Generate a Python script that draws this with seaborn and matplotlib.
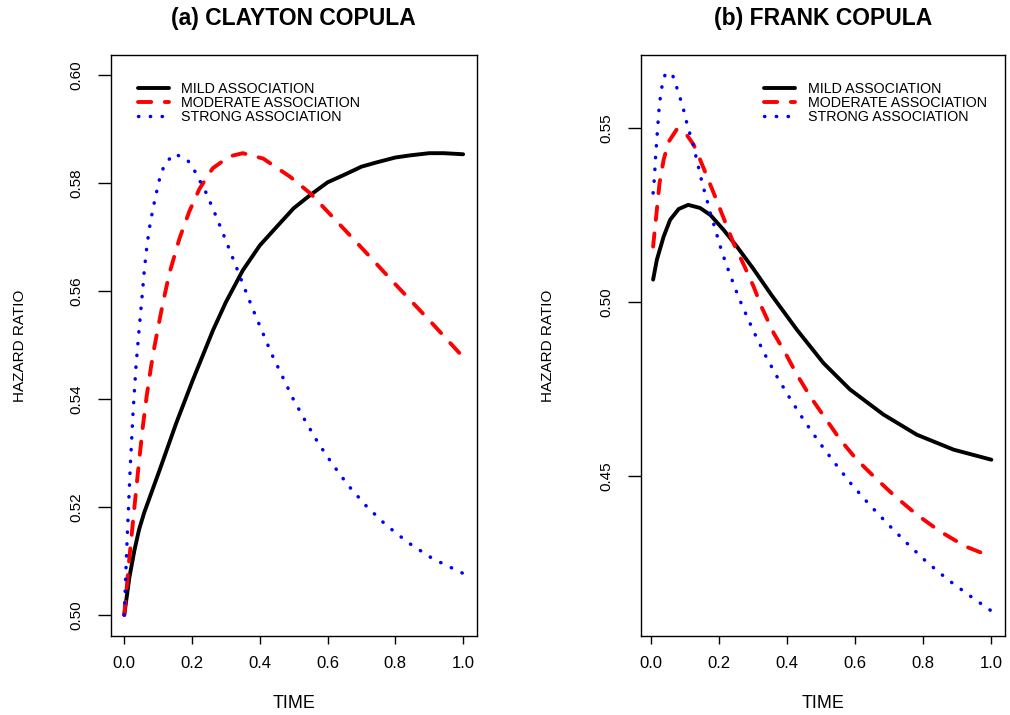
import matplotlib
matplotlib.use("Agg")
import matplotlib.pyplot as plt
import seaborn as sns

# ---------------- data ----------------
SERIES_LABELS = ["MILD ASSOCIATION", "MODERATE ASSOCIATION", "STRONG ASSOCIATION"]

# (a) Clayton copula
clayton_mild_t = [0.000, 0.015, 0.030, 0.044, 0.059, 0.104, 0.153, 0.202, 0.262, 0.300,
                  0.350, 0.400, 0.449, 0.500, 0.548, 0.600, 0.646, 0.700, 0.745, 0.800,
                  0.844, 0.900, 0.943, 1.000]
clayton_mild_v = [0.5000, 0.5069, 0.5120, 0.5159, 0.5190, 0.5268, 0.5355, 0.5435, 0.5528,
                  0.5580, 0.5639, 0.5685, 0.5719, 0.5754, 0.5778, 0.5802, 0.5815, 0.5831,
                  0.5839, 0.5848, 0.5852, 0.5856, 0.5856, 0.5854]

clayton_mod_t = [0.000, 0.015, 0.030, 0.041, 0.054, 0.066, 0.079, 0.089, 0.099, 0.113,
                 0.133, 0.163, 0.192, 0.222, 0.261, 0.310, 0.350, 0.410, 0.490, 0.550,
                 0.610, 0.670, 0.725, 0.785, 0.845, 0.905, 1.000]
clayton_mod_v = [0.5000, 0.5105, 0.5200, 0.5268, 0.5345, 0.5405, 0.5460, 0.5497, 0.5530,
                 0.5575, 0.5633, 0.5698, 0.5748, 0.5790, 0.5828, 0.5850, 0.5856, 0.5846,
                 0.5812, 0.5781, 0.5741, 0.5701, 0.5664, 0.5623, 0.5583, 0.5543, 0.5478]

clayton_str_t = [0.000, 0.008, 0.017, 0.026, 0.035, 0.044, 0.054, 0.059, 0.067, 0.077,
                 0.091, 0.107, 0.121, 0.148, 0.186, 0.207, 0.242, 0.271, 0.298, 0.325,
                 0.351, 0.378, 0.406, 0.434, 0.466, 0.498, 0.534, 0.572, 0.615, 0.661,
                 0.714, 0.772, 0.838, 0.911, 1.000]
clayton_str_v = [0.5000, 0.5133, 0.5265, 0.5376, 0.5464, 0.5531, 0.5600, 0.5638, 0.5685,
                 0.5728, 0.5772, 0.5816, 0.5837, 0.5855, 0.5844, 0.5824, 0.5782, 0.5739,
                 0.5697, 0.5654, 0.5612, 0.5569, 0.5527, 0.5485, 0.5443, 0.5401, 0.5360,
                 0.5319, 0.5279, 0.5240, 0.5202, 0.5167, 0.5134, 0.5104, 0.5077]

# (b) Frank copula
frank_mild_t = [0.007, 0.018, 0.038, 0.057, 0.082, 0.110, 0.145, 0.175, 0.214, 0.253,
                0.302, 0.355, 0.429, 0.507, 0.585, 0.683, 0.781, 0.889, 1.000]
frank_mild_v = [0.5065, 0.5122, 0.5189, 0.5237, 0.5268, 0.5280, 0.5271, 0.5251, 0.5208,
                0.5160, 0.5095, 0.5020, 0.4921, 0.4825, 0.4749, 0.4677, 0.4619, 0.4576,
                0.4547]

frank_mod_t = [0.007, 0.017, 0.026, 0.038, 0.053, 0.077, 0.101, 0.126, 0.145, 0.165,
               0.189, 0.214, 0.243, 0.273, 0.302, 0.326, 0.361, 0.395, 0.429, 0.468,
               0.512, 0.556, 0.605, 0.659, 0.717, 0.781, 0.849, 0.923, 1.000]
frank_mod_v = [0.5160, 0.5256, 0.5343, 0.5410, 0.5462, 0.5498, 0.5488, 0.5453, 0.5410,
               0.5362, 0.5304, 0.5242, 0.5170, 0.5108, 0.5045, 0.4985, 0.4911, 0.4854,
               0.4792, 0.4729, 0.4667, 0.4605, 0.4547, 0.4495, 0.4442, 0.4389, 0.4341,
               0.4298, 0.4268]

frank_str_t = [0.007, 0.011, 0.014, 0.018, 0.021, 0.024, 0.028, 0.033, 0.042, 0.053,
               0.065, 0.077, 0.088, 0.098, 0.106, 0.116, 0.126, 0.134, 0.142, 0.150,
               0.159, 0.169, 0.177, 0.189, 0.198, 0.209, 0.221, 0.233, 0.246, 0.259,
               0.273, 0.303, 0.335, 0.370, 0.409, 0.450, 0.494, 0.540, 0.588, 0.640,
               0.695, 0.752, 0.811, 0.875, 0.942, 1.000]
frank_str_v = [0.5314, 0.5360, 0.5414, 0.5470, 0.5510, 0.5551, 0.5587, 0.5620, 0.5654,
               0.5662, 0.5651, 0.5616, 0.5582, 0.5548, 0.5515, 0.5481, 0.5448, 0.5414,
               0.5381, 0.5347, 0.5314, 0.5280, 0.5247, 0.5213, 0.5180, 0.5145, 0.5111,
               0.5079, 0.5045, 0.5012, 0.4980, 0.4914, 0.4850, 0.4787, 0.4723, 0.4660,
               0.4598, 0.4538, 0.4478, 0.4420, 0.4363, 0.4307, 0.4252, 0.4200, 0.4152,
               0.4112]

x_ticks = [0.0, 0.2, 0.4, 0.6, 0.8, 1.0]
x_tick_labels = ["0.0", "0.2", "0.4", "0.6", "0.8", "1.0"]
left_y_ticks = [0.50, 0.52, 0.54, 0.56, 0.58, 0.60]
left_y_tick_labels = ["0.50", "0.52", "0.54", "0.56", "0.58", "0.60"]
right_y_ticks = [0.45, 0.50, 0.55]
right_y_tick_labels = ["0.45", "0.50", "0.55"]

titles = ["(a) CLAYTON COPULA", "(b) FRANK COPULA"]
x_label = "TIME"
y_label = "HAZARD RATIO"

# ---------------- style ----------------
sns.set_theme(style="ticks")
plt.rcParams["font.family"] = ["Liberation Sans", "DejaVu Sans"]
plt.rcParams.update({
    "axes.edgecolor": "black",
    "axes.linewidth": 1.0,
    "xtick.color": "black",
    "ytick.color": "black",
    "text.color": "black",
    "axes.labelcolor": "black",
    "xtick.major.width": 1.0,
    "ytick.major.width": 1.0,
    "figure.facecolor": "white",
    "axes.facecolor": "white",
})

line_styles = [
    dict(color="black", lw=2.8, linestyle="-", solid_capstyle="round",
         solid_joinstyle="round"),
    dict(color="#ff0000", lw=2.8, linestyle=(0, (3.4, 3.5)), dash_capstyle="round"),
    dict(color="#0000ff", lw=2.5, linestyle=(0, (0.1, 3.3)), dash_capstyle="round"),
]

W, H = 1010, 715
fig = plt.figure(figsize=(W / 100, H / 100), dpi=100)


def add_axes_px(x0, x1, y0, y1):
    return fig.add_axes([x0 / W, 1 - y1 / H, (x1 - x0) / W, (y1 - y0) / H])


axL = add_axes_px(110.7, 476.7, 55, 636)
axR = add_axes_px(640.5, 1005.0, 55, 636)

panels = [
    (axL, [(clayton_mild_t, clayton_mild_v), (clayton_mod_t, clayton_mod_v),
           (clayton_str_t, clayton_str_v)],
     (-0.04, 1.04), (0.4961, 0.6038), left_y_ticks, left_y_tick_labels, titles[0], 137.5),
    (axR, [(frank_mild_t, frank_mild_v), (frank_mod_t, frank_mod_v),
           (frank_str_t, frank_str_v)],
     (-0.03, 1.04), (0.4040, 0.5711), right_y_ticks, right_y_tick_labels, titles[1], 764.0),
]

for ax, series, xlim, ylim, yt, ytl, title, leg_x in panels:
    for (t, v), lab, st in zip(series, SERIES_LABELS, line_styles):
        sns.lineplot(x=t, y=v, ax=ax, label=lab, estimator=None, sort=False, **st)

    ax.set_xlim(*xlim)
    ax.set_ylim(*ylim)
    ax.set_xticks(x_ticks)
    ax.set_xticklabels(x_tick_labels, fontsize=12)
    ax.set_yticks(yt)
    ax.set_yticklabels(ytl, fontsize=11, rotation=90, va="center")
    ax.tick_params(axis="x", length=6, pad=8.5, direction="out")
    ax.tick_params(axis="y", length=9.4, pad=10.4, direction="out")
    for s in ax.spines.values():
        s.set_visible(True)
        s.set_color("black")

    ax.set_xlabel(x_label, fontsize=13, va="center")
    ax.xaxis.set_label_coords(0.5, (636 - 704) / 581)
    ax.set_ylabel(y_label, fontsize=11, va="center")
    ax.set_title(title, fontsize=16.5, fontweight="bold", pad=0, y=(636 - 18) / 581,
                 va="center")

    ax.legend(loc="upper left", bbox_to_anchor=(leg_x / W, 1 - 82 / H),
              bbox_transform=fig.transFigure, frameon=False, fontsize=10.3,
              borderpad=0, borderaxespad=0, handlelength=2.2,
              handletextpad=0.85, labelspacing=0.0)

axL.yaxis.set_label_coords((20 - 110.7) / 366, 0.5)
axR.yaxis.set_label_coords((548 - 640.5) / 364.5, 0.5)

fig.savefig("out.png", dpi=100)
